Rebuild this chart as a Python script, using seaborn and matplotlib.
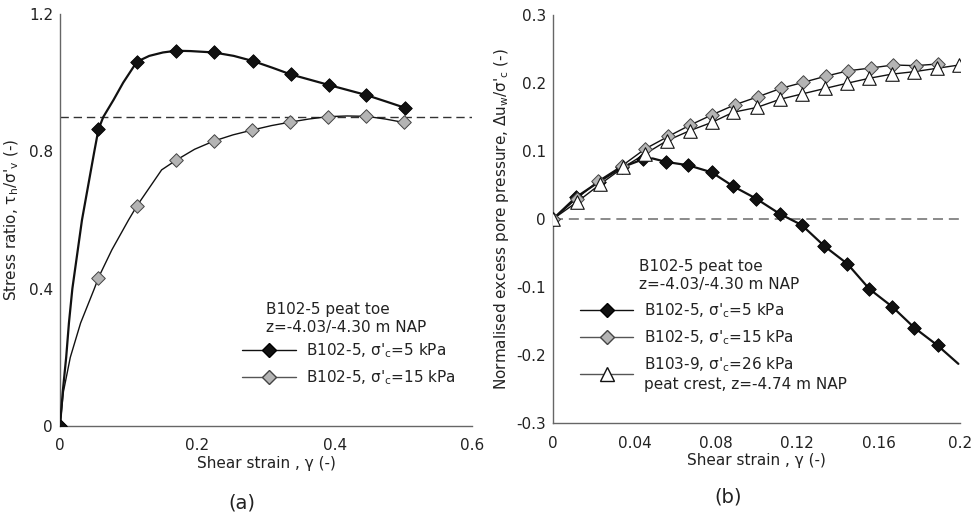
import numpy as np
import pandas as pd
import seaborn as sns
import matplotlib.pyplot as plt
from matplotlib.lines import Line2D
from matplotlib.ticker import MultipleLocator, FuncFormatter

# (a) stress ratio vs shear strain, traced curves
a5_line_x = [0, 0.004, 0.009, 0.013, 0.018, 0.025, 0.032, 0.041, 0.050, 0.056, 0.063, 0.078, 0.092,
             0.112, 0.130, 0.150, 0.169, 0.190, 0.224, 0.253, 0.281, 0.310, 0.336, 0.365, 0.392,
             0.420, 0.446, 0.475, 0.502]
a5_line_y = [0, 0.10, 0.20, 0.30, 0.40, 0.50, 0.60, 0.70, 0.80, 0.864, 0.90, 0.95, 1.00,
             1.061, 1.078, 1.088, 1.093, 1.092, 1.088, 1.078, 1.063, 1.043, 1.024, 1.008, 0.993,
             0.978, 0.964, 0.945, 0.927]
a5_mark_x = [0, 0.056, 0.112, 0.169, 0.224, 0.281, 0.336, 0.392, 0.446, 0.502]
a5_mark_y = [0, 0.864, 1.061, 1.093, 1.088, 1.063, 1.024, 0.993, 0.964, 0.927]

a15_line_x = [0, 0.005, 0.015, 0.030, 0.050, 0.056, 0.0755, 0.0998, 0.112, 0.148, 0.169, 0.196,
              0.224, 0.252, 0.280, 0.308, 0.335, 0.362, 0.390, 0.418, 0.446, 0.474, 0.501]
a15_line_y = [0, 0.10, 0.20, 0.30, 0.40, 0.432, 0.513, 0.60, 0.641, 0.746, 0.774, 0.806,
              0.830, 0.848, 0.862, 0.875, 0.885, 0.894, 0.901, 0.903, 0.902, 0.894, 0.884]
a15_mark_x = [0, 0.056, 0.112, 0.169, 0.224, 0.280, 0.335, 0.390, 0.446, 0.501]
a15_mark_y = [0, 0.432, 0.641, 0.774, 0.830, 0.862, 0.885, 0.901, 0.902, 0.884]
a_ref = 0.9

# (b) normalised excess pore pressure vs shear strain
b5_mark_x = [0, 0.0113, 0.0228, 0.0338, 0.0444, 0.0555, 0.0665, 0.078, 0.0886, 0.0998,
             0.1115, 0.1222, 0.1334, 0.1447, 0.1555, 0.1667, 0.1776, 0.189]
b5_mark_y = [0, 0.032, 0.055, 0.076, 0.088, 0.084, 0.079, 0.0686, 0.048, 0.030,
             0.0074, -0.0088, -0.040, -0.066, -0.103, -0.129, -0.160, -0.186]
b5_line_x = [0, 0.0113, 0.0228, 0.0338, 0.0444, 0.049, 0.0555, 0.0665, 0.078, 0.0886, 0.0998,
             0.1115, 0.1222, 0.1334, 0.1447, 0.1555, 0.1667, 0.1776, 0.189, 0.1992]
b5_line_y = [0, 0.032, 0.055, 0.076, 0.088, 0.089, 0.084, 0.079, 0.0686, 0.048, 0.030,
             0.0074, -0.0088, -0.040, -0.066, -0.103, -0.129, -0.160, -0.186, -0.213]

b15_x = [0, 0.0116, 0.0223, 0.0338, 0.0452, 0.0567, 0.0673, 0.078, 0.0894, 0.1009,
         0.1119, 0.1230, 0.1340, 0.1451, 0.1561, 0.1672, 0.1782, 0.1893]
b15_y = [0, 0.030, 0.056, 0.078, 0.103, 0.1216, 0.138, 0.153, 0.168, 0.180,
         0.192, 0.201, 0.210, 0.218, 0.222, 0.2265, 0.2255, 0.228]

b26_x = [0, 0.0116, 0.0231, 0.0346, 0.0452, 0.0559, 0.0673, 0.078, 0.0886, 0.1001,
         0.1115, 0.1225, 0.1337, 0.1443, 0.1555, 0.1664, 0.1776, 0.1886, 0.1997]
b26_y = [0, 0.0245, 0.051, 0.076, 0.0956, 0.115, 0.130, 0.142, 0.157, 0.164,
         0.176, 0.184, 0.192, 0.1995, 0.207, 0.213, 0.2167, 0.2216, 0.2265]
b_ref = 0.0

lab5 = "B102-5, σ'$_\\mathrm{c}$=5 kPa"
lab15 = "B102-5, σ'$_\\mathrm{c}$=15 kPa"
lab26 = "B103-9, σ'$_\\mathrm{c}$=26 kPa\npeat crest, z=-4.74 m NAP"
site_text = "B102-5 peat toe\nz=-4.03/-4.30 m NAP"

sns.set_theme(style="white")
plt.rcParams['font.family'] = ['DejaVu Sans']
plt.rcParams['mathtext.fontset'] = 'dejavusans'
FS = 11
TXT = '#222222'
SP = '#666666'

fig = plt.figure(figsize=(9.73, 5.22), dpi=100)
axa = fig.add_axes([60 / 973, 1 - 426 / 522, 412 / 973, 412 / 522])
axb = fig.add_axes([553 / 973, 1 - 423 / 522, 407 / 973, 408 / 522])

dia_black = dict(marker='D', s=48, color='#111111', edgecolor='#000000', linewidth=0.6, zorder=4)
dia_gray = dict(marker='D', s=48, color='#b4b4b4', edgecolor='#444444', linewidth=0.7, zorder=4)
tri_white = dict(marker='^', s=95, color='white', edgecolor='#111111', linewidth=0.8, zorder=5)


def curve(ax, x, y, lw, z=3):
    df = pd.DataFrame({'x': x, 'y': y})
    sns.lineplot(data=df, x='x', y='y', ax=ax, color='#111111', lw=lw, sort=False,
                 estimator=None, zorder=z)


def pts(ax, x, y, kw):
    sns.scatterplot(x=np.array(x), y=np.array(y), ax=ax, **kw)


# panel (a)
axa.axhline(a_ref, color='#333333', lw=1.0, ls=(0, (6, 3.5)), zorder=1)
curve(axa, a15_line_x, a15_line_y, 1.0)
curve(axa, a5_line_x, a5_line_y, 1.6)
pts(axa, a15_mark_x, a15_mark_y, dia_gray)
pts(axa, a5_mark_x, a5_mark_y, dia_black)
axa.set_xlim(0, 0.6)
axa.set_ylim(0, 1.2)
axa.xaxis.set_major_locator(MultipleLocator(0.2))
axa.xaxis.set_minor_locator(MultipleLocator(0.1))
axa.yaxis.set_major_locator(MultipleLocator(0.4))
axa.yaxis.set_minor_locator(MultipleLocator(0.2))
axa.set_ylabel("Stress ratio, τ$_\\mathrm{h}$/σ'$_\\mathrm{v}$ (-)", fontsize=FS, color=TXT, labelpad=6)

# panel (b)
axb.plot([0, 0.2], [b_ref, b_ref], color='#777777', lw=1.2, ls=(0, (6, 3.5)), zorder=1)
curve(axb, b26_x, b26_y, 1.0)
curve(axb, b15_x, b15_y, 1.0)
curve(axb, b5_line_x, b5_line_y, 1.6)
pts(axb, b5_mark_x, b5_mark_y, dia_black)
pts(axb, b15_x, b15_y, dia_gray)
pts(axb, b26_x, b26_y, tri_white)
axb.set_xlim(0, 0.2)
axb.set_ylim(-0.3, 0.3)
axb.xaxis.set_major_locator(MultipleLocator(0.04))
axb.xaxis.set_minor_locator(MultipleLocator(0.02))
axb.yaxis.set_major_locator(MultipleLocator(0.1))
axb.yaxis.set_minor_locator(MultipleLocator(0.05))
axb.set_ylabel("Normalised excess pore pressure, Δu$_\\mathrm{w}$/σ'$_\\mathrm{c}$ (-)",
               fontsize=FS, color=TXT, labelpad=4)

fmt = FuncFormatter(lambda v, p: '{:g}'.format(round(v, 4)))
for ax in (axa, axb):
    ax.set_xlabel("Shear strain , γ (-)", fontsize=FS, color=TXT, labelpad=2)
    for s in ('top', 'right'):
        ax.spines[s].set_visible(False)
    for s in ('left', 'bottom'):
        ax.spines[s].set_color(SP)
        ax.spines[s].set_linewidth(1.0)
    ax.xaxis.set_major_formatter(fmt)
    ax.yaxis.set_major_formatter(fmt)
    ax.tick_params(which='major', direction='in', length=9, width=0.9, color=SP,
                   labelsize=FS, labelcolor=TXT)
    ax.tick_params(which='minor', direction='in', length=5, width=0.9, color=SP)
    ax.tick_params(axis='x', which='major', pad=9)
    ax.tick_params(axis='y', which='major', pad=5)
    ax.set_facecolor('white')

h5 = Line2D([], [], color='#111111', lw=1.0, marker='D', ms=6.9, mfc='#111111', mec='#000000')
h15 = Line2D([], [], color='#555555', lw=1.0, marker='D', ms=6.9, mfc='#b4b4b4', mec='#444444')
h26 = Line2D([], [], color='#555555', lw=1.0, marker='^', ms=9.5, mfc='white', mec='#111111')

axa.text(0.5, 0.262, site_text, transform=axa.transAxes, fontsize=FS, color=TXT,
         va='center', ha='left', linespacing=1.25)
axa.legend([h5, h15], [lab5, lab15], loc='upper left', bbox_to_anchor=(0.442, 0.205),
           frameon=False, fontsize=FS, handlelength=3.5, handletextpad=0.7,
           labelspacing=0.55, borderpad=0, borderaxespad=0, labelcolor=TXT)

axb.text(0.211, 0.362, site_text, transform=axb.transAxes, fontsize=FS, color=TXT,
         va='center', ha='left', linespacing=1.25)
axb.legend([h5, h15, h26], [lab5, lab15, lab26], loc='upper left', bbox_to_anchor=(0.066, 0.298),
           frameon=False, fontsize=FS, handlelength=3.5, handletextpad=0.7,
           labelspacing=0.55, borderpad=0, borderaxespad=0, labelcolor=TXT)

fig.text(242 / 973, 1 - 503 / 522, "(a)", fontsize=14, color=TXT, ha='center', va='center')
fig.text(728 / 973, 1 - 497 / 522, "(b)", fontsize=14, color=TXT, ha='center', va='center')

fig.savefig('out.png', dpi=100, facecolor='white')
